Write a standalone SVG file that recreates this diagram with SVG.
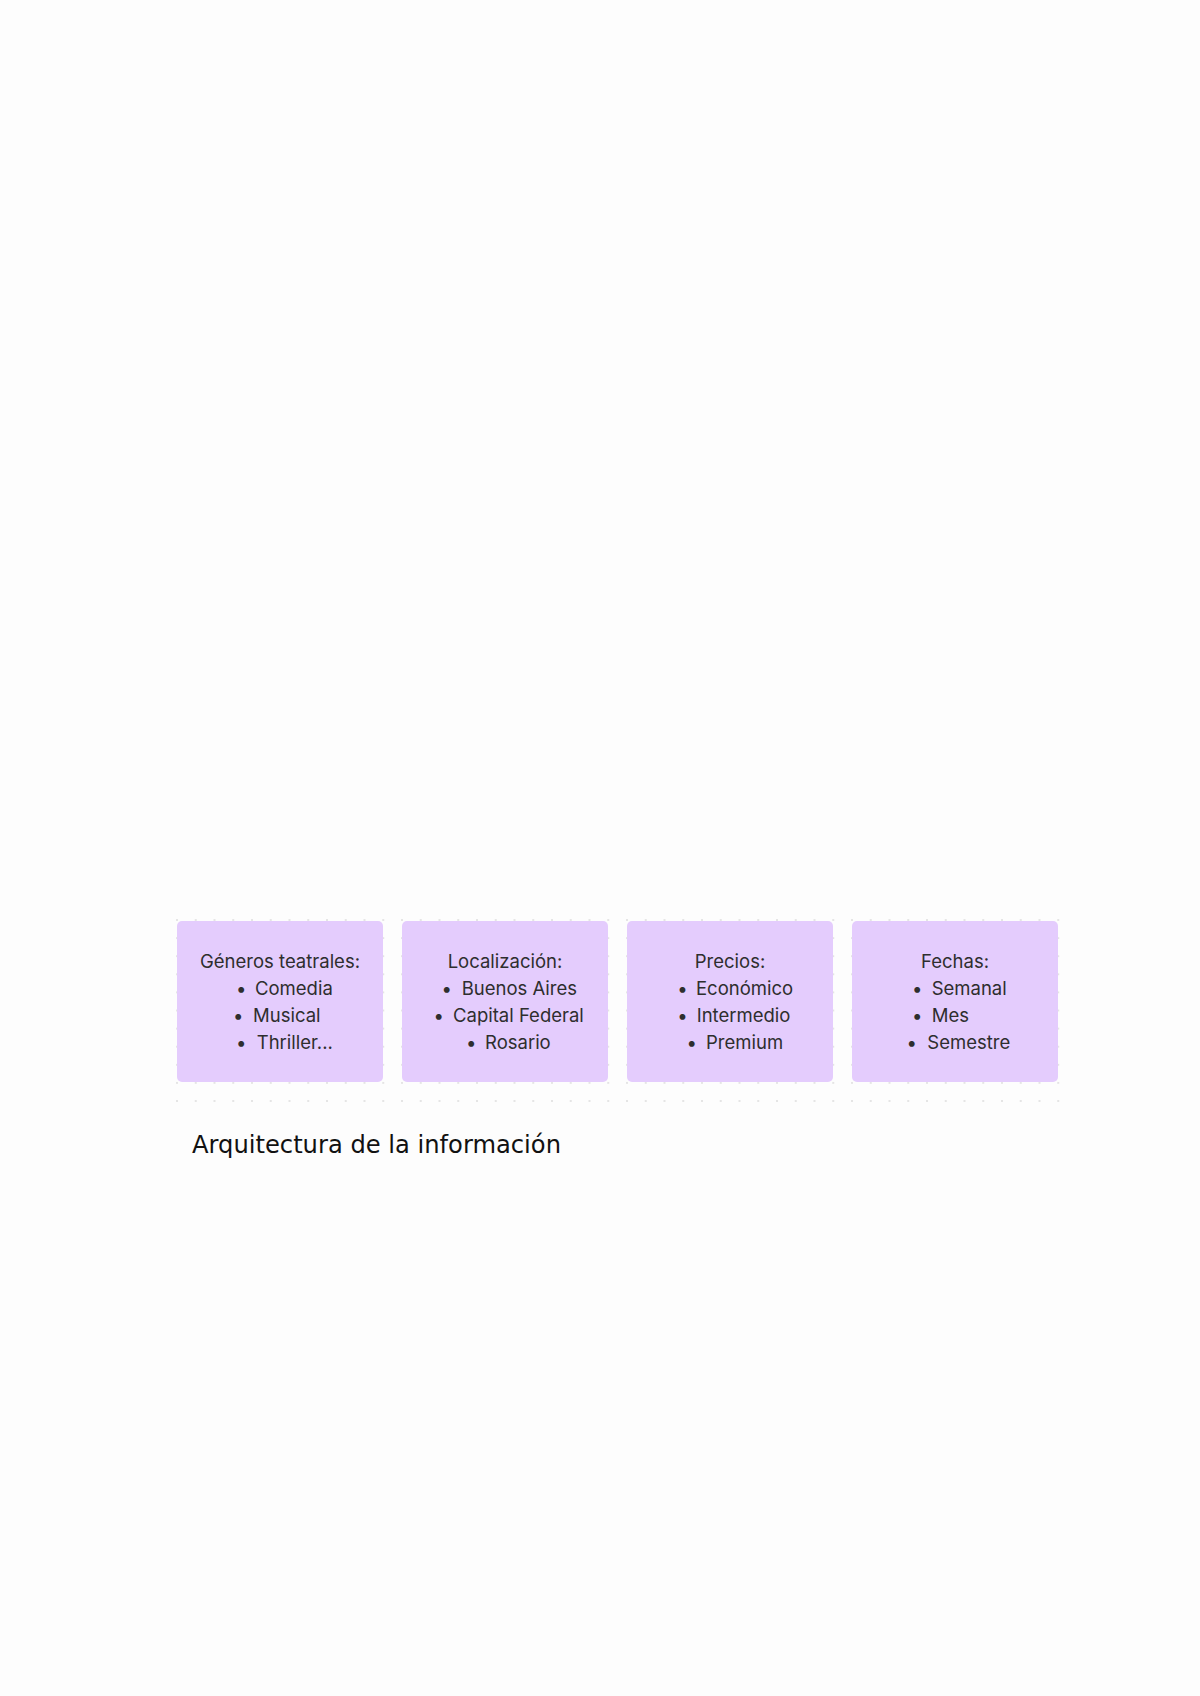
<svg xmlns="http://www.w3.org/2000/svg" width="1200" height="1696" viewBox="0 0 1200 1696">
<defs>
<style>
.box{fill:#E4CCFD;}
.t{font-family:Inter,"Noto Sans","Liberation Sans",sans-serif;font-size:18.5px;fill:#2e2e2e;}
.h{text-anchor:middle;}
.title{font-family:"DejaVu Sans",sans-serif;font-size:24.2px;fill:#111111;}
</style>
<pattern id="dots" x="177" y="920" width="18.75" height="18.1" patternUnits="userSpaceOnUse">
<circle cx="0" cy="0" r="0.9" fill="#d9d9d9"/>
<circle cx="18.75" cy="0" r="0.9" fill="#d9d9d9"/>
<circle cx="0" cy="18.1" r="0.9" fill="#d9d9d9"/>
<circle cx="18.75" cy="18.1" r="0.9" fill="#d9d9d9"/>
</pattern>
</defs>
<rect width="1200" height="1696" fill="#fdfdfd"/>
<rect x="175" y="918" width="885" height="185" fill="url(#dots)"/>
<g id="connectors"/>
<g id="generos">
<rect class="box" x="177" y="921" width="206" height="161" rx="5"/>
<text class="t h" x="280" y="968">Géneros teatrales:</text>
<text class="t" x="236" y="995">•</text><text class="t" x="255" y="995">Comedia</text>
<text class="t" x="233" y="1022">•</text><text class="t" x="253" y="1022">Musical</text>
<text class="t" x="236" y="1049">•</text><text class="t" x="256.7" y="1049">Thriller...</text>
</g>
<g id="localizacion">
<rect class="box" x="402" y="921" width="206" height="161" rx="5"/>
<text class="t h" x="505" y="968">Localización:</text>
<text class="t" x="441.5" y="995">•</text><text class="t" x="461.7" y="995">Buenos Aires</text>
<text class="t" x="433.5" y="1022">•</text><text class="t" x="453" y="1022">Capital Federal</text>
<text class="t" x="466" y="1049">•</text><text class="t" x="485" y="1049">Rosario</text>
</g>
<g id="precios">
<rect class="box" x="627" y="921" width="206" height="161" rx="5"/>
<text class="t h" x="730" y="968">Precios:</text>
<text class="t" x="677.2" y="995">•</text><text class="t" x="696" y="995">Económico</text>
<text class="t" x="677.2" y="1022">•</text><text class="t" x="696.7" y="1022">Intermedio</text>
<text class="t" x="686.5" y="1049">•</text><text class="t" x="706" y="1049">Premium</text>
</g>
<g id="fechas">
<rect class="box" x="852" y="921" width="206" height="161" rx="5"/>
<text class="t h" x="955" y="968">Fechas:</text>
<text class="t" x="912" y="995">•</text><text class="t" x="931.7" y="995">Semanal</text>
<text class="t" x="912" y="1022">•</text><text class="t" x="931.7" y="1022">Mes</text>
<text class="t" x="906.5" y="1049">•</text><text class="t" x="927.3" y="1049">Semestre</text>
</g>
<text class="title" x="192" y="1153">Arquitectura de la información</text>
</svg>
